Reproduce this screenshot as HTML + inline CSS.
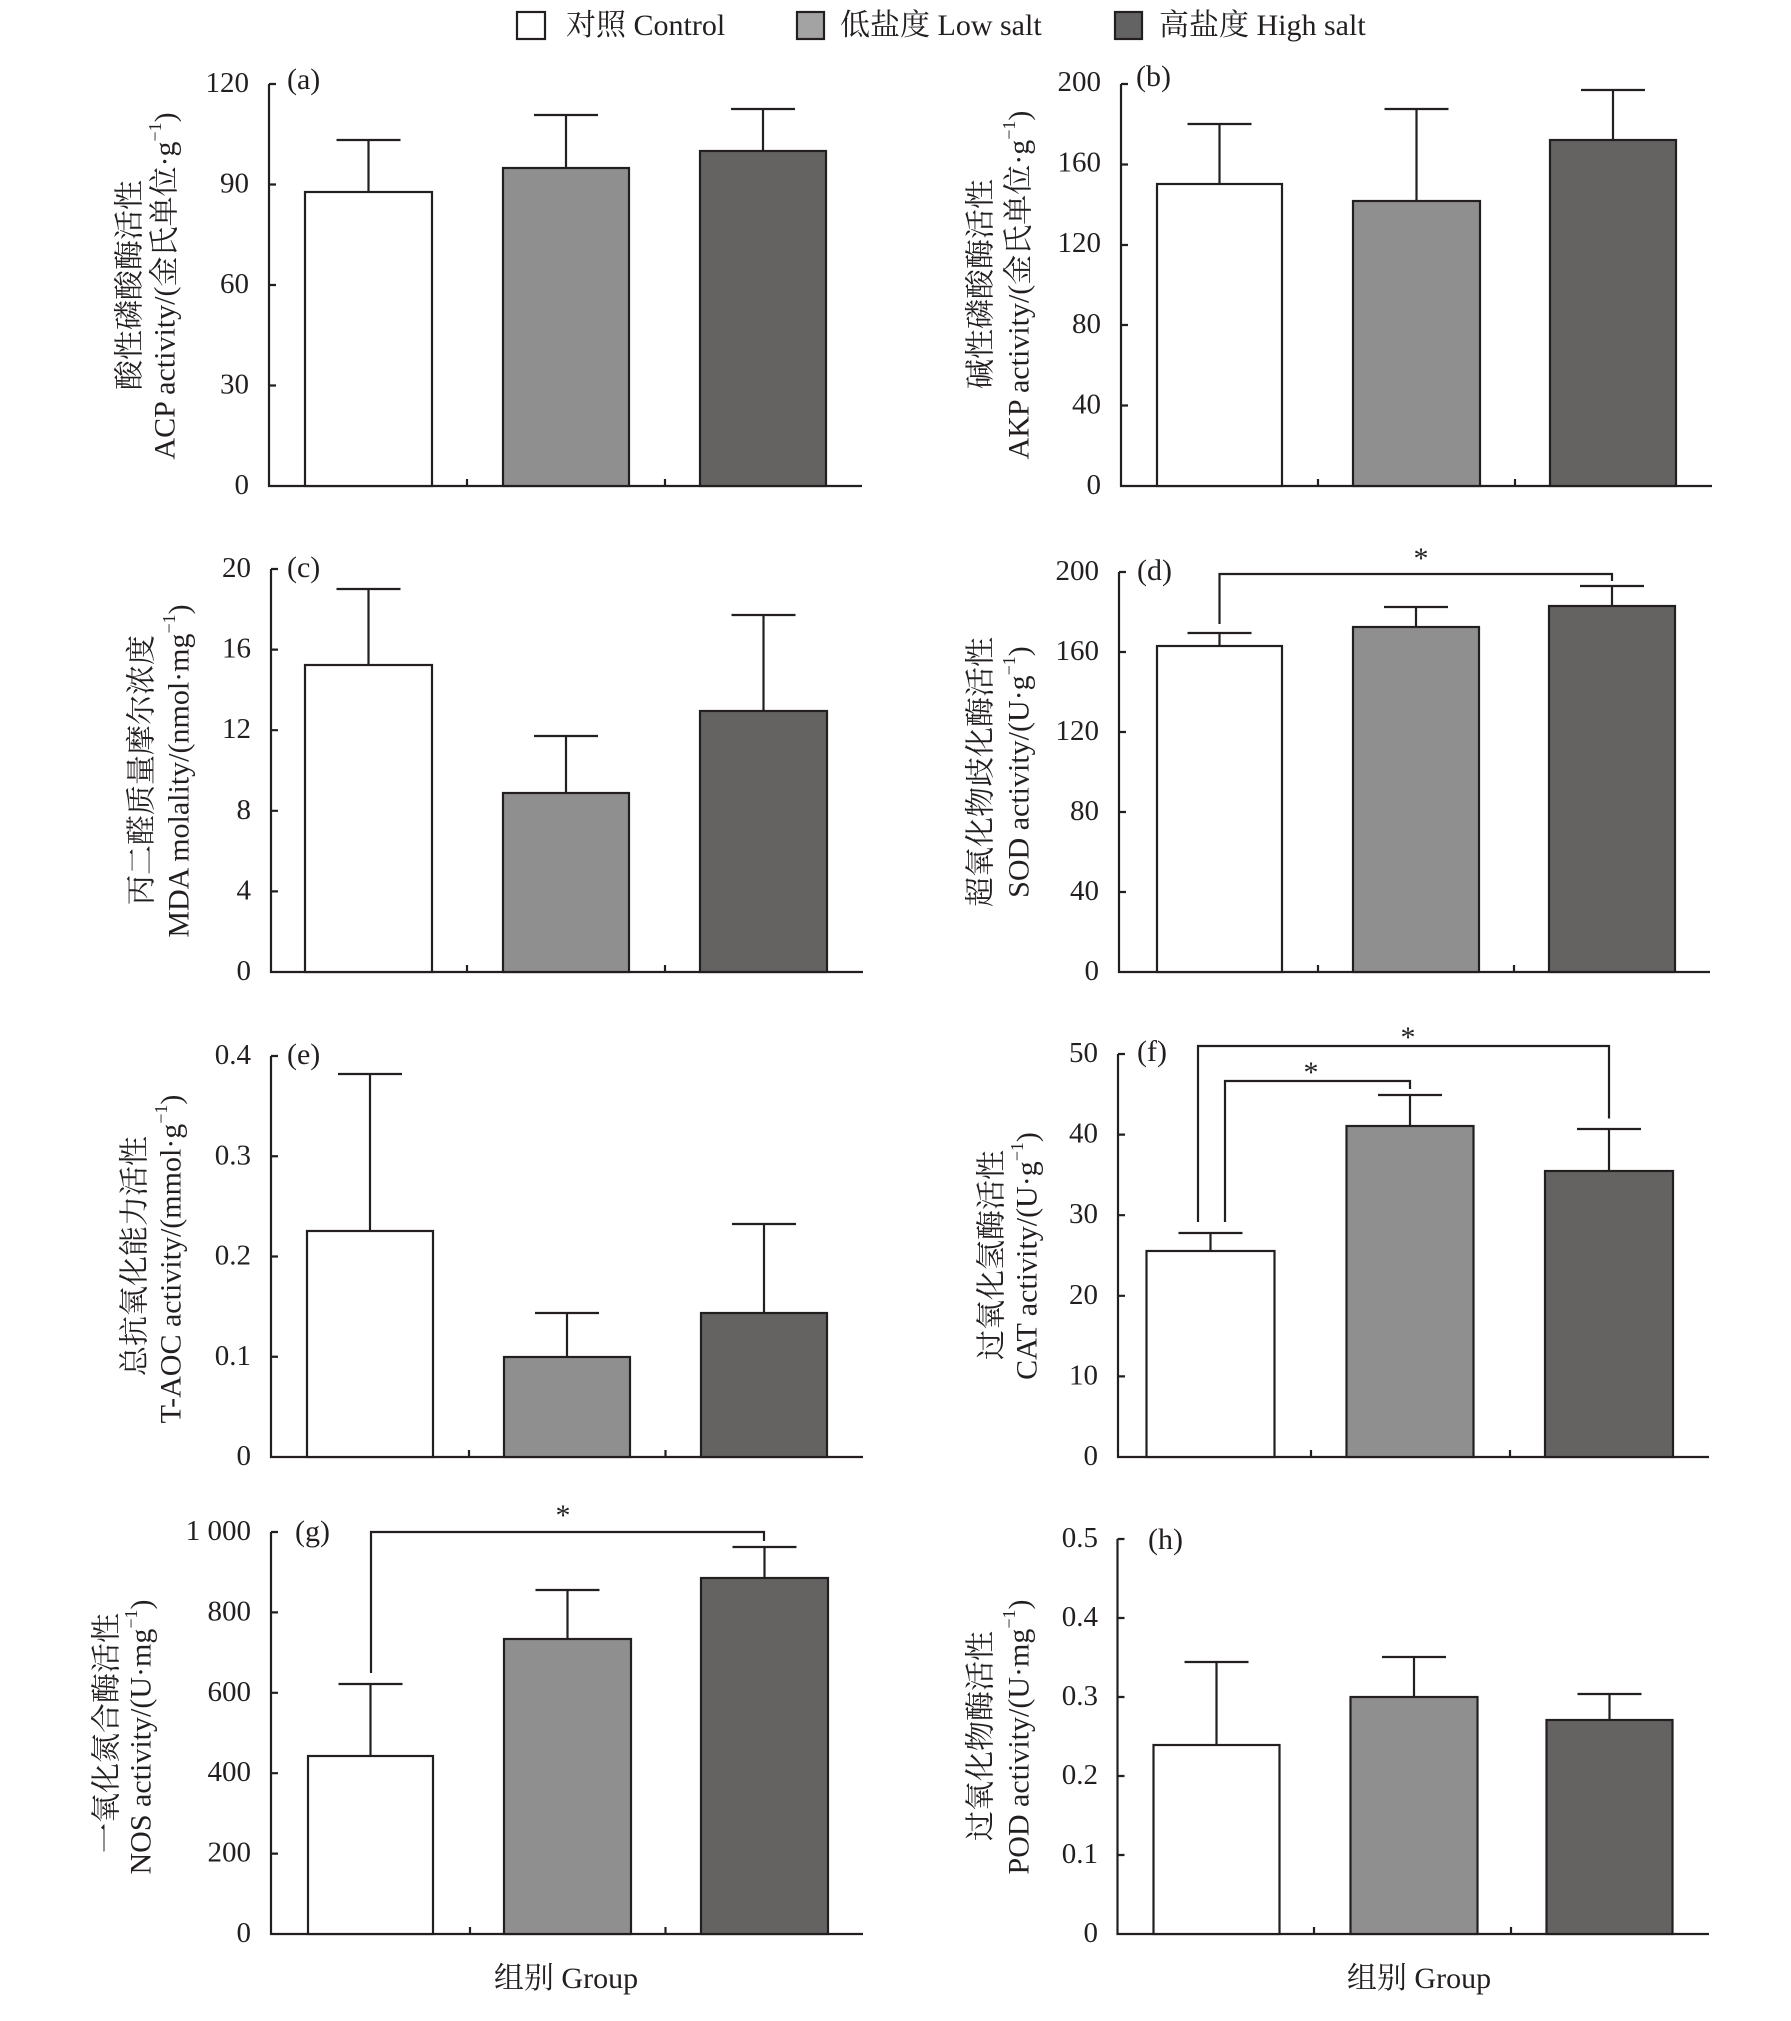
<!DOCTYPE html>
<html><head><meta charset="utf-8"><style>
html,body{margin:0;padding:0;background:#fff;}
svg{display:block;}
text{font-family:"Liberation Serif","Noto Serif CJK SC",serif;fill:#231f20;}
.t{font-size:29px;text-anchor:end;}
.p{font-size:30px;}
.yl{font-size:30px;text-anchor:middle;dominant-baseline:central;}
.ax{stroke:#231f20;stroke-width:2.2;fill:none;}
.bar{stroke:#231f20;stroke-width:2.2;}
.c{fill:#ffffff;}.l{fill:#908f8f;}.h{fill:#646362;}
.st{font-size:30px;text-anchor:middle;}
</style></head><body>
<svg width="1791" height="2021" viewBox="0 0 1791 2021" xmlns="http://www.w3.org/2000/svg">
<rect width="1791" height="2021" fill="#fff"/>

<!-- Legend -->
<rect x="517" y="12" width="28" height="27" fill="#fff" stroke="#231f20" stroke-width="2.2"/>
<text class="p" x="566" y="35">对照 Control</text>
<rect x="797" y="12" width="27" height="27" fill="#a3a3a3" stroke="#231f20" stroke-width="2.2"/>
<text class="p" x="840" y="35">低盐度 Low salt</text>
<rect x="1115" y="12" width="27" height="27" fill="#636363" stroke="#231f20" stroke-width="2.2"/>
<text class="p" x="1159" y="35">高盐度 High salt</text>

<!-- Panel (a) -->
<path class="ax" d="M269 84V486H862M269 84h7M269 184.5h7M269 285h7M269 385.5h7M467 486v-7M665 486v-7"/>
<text class="t" x="249" y="92">120</text>
<text class="t" x="249" y="192.5">90</text>
<text class="t" x="249" y="293">60</text>
<text class="t" x="249" y="393.5">30</text>
<text class="t" x="249" y="494">0</text>
<text class="p" x="287" y="89">(a)</text>
<rect class="bar c" x="305" y="192" width="127" height="294"/>
<rect class="bar l" x="503" y="168" width="126" height="318"/>
<rect class="bar h" x="700" y="151" width="126" height="335"/>
<path class="ax" d="M368.5 192V140M336.5 140h64M566 168V115M534 115h64M763 151V109M731 109h64"/>
<text class="yl" transform="translate(130,285) rotate(-90)">酸性磷酸酶活性</text>
<text class="yl" transform="translate(165,286) rotate(-90)">ACP activity/(金氏单位·g<tspan dy="-10" font-size="18">−1</tspan><tspan dy="10">)</tspan></text>

<!-- Panel (b) -->
<path class="ax" d="M1121 84V486H1712M1121 84h7M1121 164.5h7M1121 245h7M1121 325h7M1121 405.5h7M1318 486v-7M1515 486v-7"/>
<text class="t" x="1101" y="91">200</text>
<text class="t" x="1101" y="171.6">160</text>
<text class="t" x="1101" y="252.2">120</text>
<text class="t" x="1101" y="332.8">80</text>
<text class="t" x="1101" y="413.4">40</text>
<text class="t" x="1101" y="494">0</text>
<text class="p" x="1136" y="86">(b)</text>
<rect class="bar c" x="1157" y="184" width="125" height="302"/>
<rect class="bar l" x="1353" y="201" width="127" height="285"/>
<rect class="bar h" x="1550" y="140" width="126" height="346"/>
<path class="ax" d="M1219.5 184V124M1187.5 124h64M1416.5 201V109M1384.5 109h64M1613 140V90M1581 90h64"/>
<text class="yl" transform="translate(981,284) rotate(-90)">碱性磷酸酶活性</text>
<text class="yl" transform="translate(1019,285) rotate(-90)">AKP activity/(金氏单位·g<tspan dy="-10" font-size="18">−1</tspan><tspan dy="10">)</tspan></text>

<!-- Panel (c) -->
<path class="ax" d="M271 569V972H863M271 569h7M271 649.6h7M271 730.2h7M271 810.8h7M271 891.4h7M467 972v-7M665 972v-7"/>
<text class="t" x="251" y="577">20</text>
<text class="t" x="251" y="657.6">16</text>
<text class="t" x="251" y="738.2">12</text>
<text class="t" x="251" y="818.8">8</text>
<text class="t" x="251" y="899.4">4</text>
<text class="t" x="251" y="980">0</text>
<text class="p" x="287" y="577">(c)</text>
<rect class="bar c" x="305" y="665" width="127" height="307"/>
<rect class="bar l" x="503" y="793" width="126" height="179"/>
<rect class="bar h" x="700" y="711" width="127" height="261"/>
<path class="ax" d="M368.5 665V589M336.5 589h64M566 793V736M534 736h64M763.5 711V615M731.5 615h64"/>
<text class="yl" transform="translate(142,770) rotate(-90)">丙二醛质量摩尔浓度</text>
<text class="yl" transform="translate(179,771) rotate(-90)">MDA molality/(nmol·mg<tspan dy="-10" font-size="18">−1</tspan><tspan dy="10">)</tspan></text>

<!-- Panel (d) -->
<path class="ax" d="M1119 572V972H1710M1119 572h7M1119 652h7M1119 732h7M1119 812h7M1119 892h7M1318 972v-7M1514 972v-7"/>
<text class="t" x="1099" y="580">200</text>
<text class="t" x="1099" y="660">160</text>
<text class="t" x="1099" y="740">120</text>
<text class="t" x="1099" y="820">80</text>
<text class="t" x="1099" y="900">40</text>
<text class="t" x="1099" y="980">0</text>
<text class="p" x="1137" y="580">(d)</text>
<rect class="bar c" x="1157" y="646" width="125" height="326"/>
<rect class="bar l" x="1353" y="627" width="126" height="345"/>
<rect class="bar h" x="1549" y="606" width="126" height="366"/>
<path class="ax" d="M1219.5 646V633M1187.5 633h64M1416 627V607M1384 607h64M1612 606V586M1580 586h64"/>
<path class="ax" d="M1219.5 624V574H1612V581"/>
<text class="st" x="1421" y="568">*</text>
<text class="yl" transform="translate(981,772) rotate(-90)">超氧化物歧化酶活性</text>
<text class="yl" transform="translate(1019,772) rotate(-90)">SOD activity/(U·g<tspan dy="-10" font-size="18">−1</tspan><tspan dy="10">)</tspan></text>

<!-- Panel (e) -->
<path class="ax" d="M271 1056V1457H863M271 1056h7M271 1156.25h7M271 1256.5h7M271 1356.75h7M469 1457v-7M665.5 1457v-7"/>
<text class="t" x="251" y="1064">0.4</text>
<text class="t" x="251" y="1164.25">0.3</text>
<text class="t" x="251" y="1264.5">0.2</text>
<text class="t" x="251" y="1364.75">0.1</text>
<text class="t" x="251" y="1465">0</text>
<text class="p" x="287" y="1064">(e)</text>
<rect class="bar c" x="307" y="1231" width="126" height="226"/>
<rect class="bar l" x="504" y="1357" width="126" height="100"/>
<rect class="bar h" x="701" y="1313" width="126" height="144"/>
<path class="ax" d="M370 1231V1074M338 1074h64M567 1357V1313M535 1313h64M764 1313V1224M732 1224h64"/>
<text class="yl" transform="translate(135,1256) rotate(-90)">总抗氧化能力活性</text>
<text class="yl" transform="translate(171,1259) rotate(-90)">T-AOC activity/(mmol·g<tspan dy="-10" font-size="18">−1</tspan><tspan dy="10">)</tspan></text>

<!-- Panel (f) -->
<path class="ax" d="M1118 1054V1457H1709M1118 1054h7M1118 1134.6h7M1118 1215.2h7M1118 1295.8h7M1118 1376.4h7M1311 1457v-7M1510 1457v-7"/>
<text class="t" x="1098" y="1062">50</text>
<text class="t" x="1098" y="1142.6">40</text>
<text class="t" x="1098" y="1223.2">30</text>
<text class="t" x="1098" y="1303.8">20</text>
<text class="t" x="1098" y="1384.4">10</text>
<text class="t" x="1098" y="1465">0</text>
<text class="p" x="1137" y="1061">(f)</text>
<rect class="bar c" x="1146.5" y="1251" width="128" height="206"/>
<rect class="bar l" x="1346.5" y="1126" width="127" height="331"/>
<rect class="bar h" x="1545" y="1171" width="128" height="286"/>
<path class="ax" d="M1210.5 1251V1233M1178.5 1233h64M1410 1126V1095M1378 1095h64M1609 1171V1129M1577 1129h64"/>
<path class="ax" d="M1198 1222V1046H1609V1118.5M1225 1222V1081H1410V1089"/>
<text class="st" x="1408" y="1047">*</text>
<text class="st" x="1311" y="1082">*</text>
<text class="yl" transform="translate(992,1255) rotate(-90)">过氧化氢酶活性</text>
<text class="yl" transform="translate(1027,1256) rotate(-90)">CAT activity/(U·g<tspan dy="-10" font-size="18">−1</tspan><tspan dy="10">)</tspan></text>

<!-- Panel (g) -->
<path class="ax" d="M271 1532V1934H863M271 1532h7M271 1612.4h7M271 1692.8h7M271 1773.2h7M271 1853.6h7M470 1934v-7M665.5 1934v-7"/>
<text class="t" x="251" y="1540">1 000</text>
<text class="t" x="251" y="1620.4">800</text>
<text class="t" x="251" y="1700.8">600</text>
<text class="t" x="251" y="1781.2">400</text>
<text class="t" x="251" y="1861.6">200</text>
<text class="t" x="251" y="1942">0</text>
<text class="p" x="295" y="1541">(g)</text>
<rect class="bar c" x="308" y="1756" width="125" height="178"/>
<rect class="bar l" x="504" y="1639" width="127" height="295"/>
<rect class="bar h" x="701" y="1578" width="127" height="356"/>
<path class="ax" d="M370.5 1756V1684M338.5 1684h64M567.5 1639V1590M535.5 1590h64M764.5 1578V1547M732.5 1547h64"/>
<path class="ax" d="M371 1673V1532H764V1541"/>
<text class="st" x="563" y="1525">*</text>
<text class="yl" transform="translate(107,1733) rotate(-90)">一氧化氮合酶活性</text>
<text class="yl" transform="translate(141,1737) rotate(-90)">NOS activity/(U·mg<tspan dy="-10" font-size="18">−1</tspan><tspan dy="10">)</tspan></text>
<text class="p" x="566" y="1988" text-anchor="middle">组别 Group</text>

<!-- Panel (h) -->
<path class="ax" d="M1117.5 1539V1934H1709M1117.5 1539h7M1117.5 1618h7M1117.5 1697h7M1117.5 1776h7M1117.5 1855h7M1314 1934v-7M1511 1934v-7"/>
<text class="t" x="1098" y="1547">0.5</text>
<text class="t" x="1098" y="1626">0.4</text>
<text class="t" x="1098" y="1705">0.3</text>
<text class="t" x="1098" y="1784">0.2</text>
<text class="t" x="1098" y="1863">0.1</text>
<text class="t" x="1098" y="1942">0</text>
<text class="p" x="1148" y="1549">(h)</text>
<rect class="bar c" x="1153.5" y="1745" width="126" height="189"/>
<rect class="bar l" x="1350.5" y="1697" width="127" height="237"/>
<rect class="bar h" x="1546.5" y="1720" width="126" height="214"/>
<path class="ax" d="M1216.5 1745V1662M1184.5 1662h64M1414 1697V1657M1382 1657h64M1609.5 1720V1694M1577.5 1694h64"/>
<text class="yl" transform="translate(981,1736) rotate(-90)">过氧化物酶活性</text>
<text class="yl" transform="translate(1019,1737) rotate(-90)">POD activity/(U·mg<tspan dy="-10" font-size="18">−1</tspan><tspan dy="10">)</tspan></text>
<text class="p" x="1419" y="1988" text-anchor="middle">组别 Group</text>
</svg>
</body></html>
